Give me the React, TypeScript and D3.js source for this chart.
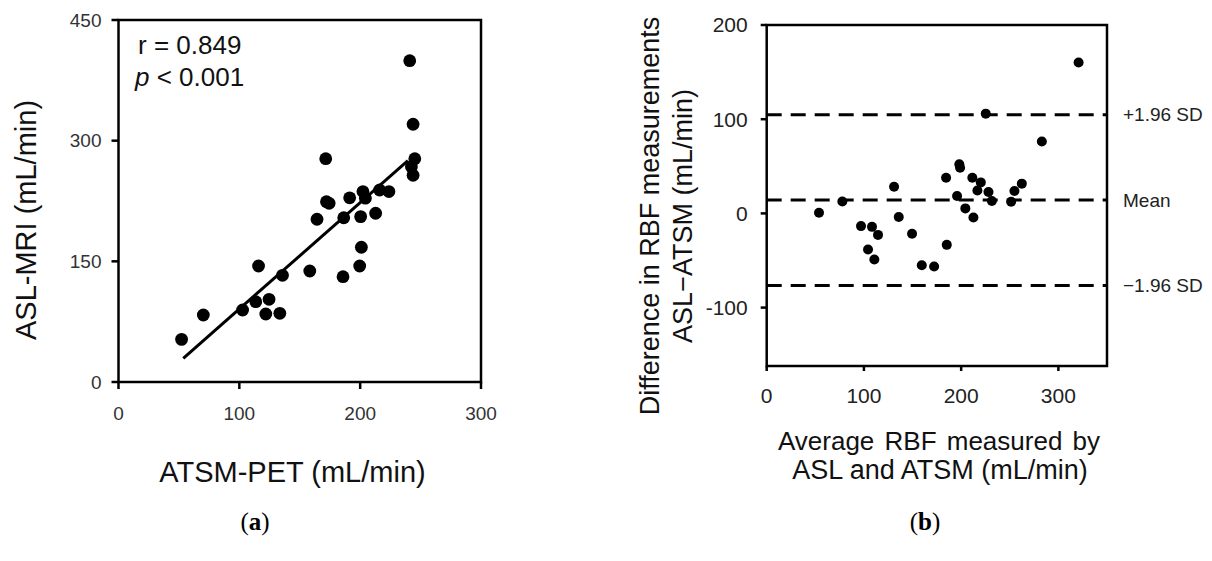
import React from "react";
import * as d3 from "d3";

// ---------- Panel (a) data ----------
const atsmPet = [52.2, 70.2, 102.7, 115.9, 113.6, 124.6, 121.9, 133.5, 135.7, 158.3, 164.3, 171.5, 172.1, 174.3, 185.8, 186.4, 191.3, 199.6, 201.0, 200.4, 202.3, 204.3, 212.8, 216.1, 223.8, 241.0, 243.8, 245.2, 242.4, 243.8];
const aslMri = [53, 83.3, 89.5, 144.2, 99.8, 102.8, 84.5, 85.4, 132.6, 138, 202.3, 277.6, 224.1, 222.1, 130.9, 204.2, 229, 144.2, 167.5, 205.6, 236.7, 228.5, 209.8, 238.7, 236.7, 399.4, 320.4, 277.6, 267.7, 257];
const fitSlope = 1.321;
const fitIntercept = -41.3;
const fitRange = [53.6, 239.5];
const aXTicks = [0, 100, 200, 300];
const aYTicks = [0, 150, 300, 450];

// ---------- Panel (b) data ----------
const avgRbf = [53.8, 77.8, 97.0, 104.2, 108.3, 110.7, 114.5, 131.0, 135.8, 149.5, 159.5, 172.2, 184.5, 185.2, 195.8, 198.1, 198.9, 204.3, 211.5, 212.6, 216.7, 220.2, 225.3, 228.1, 231.6, 251.4, 254.8, 262.4, 283.0, 320.8];
const diffRbf = [0.6, 12.6, -13.5, -38.3, -14.3, -49.0, -22.8, 28.2, -3.9, -21.6, -55.0, -56.4, 37.9, -33.4, 18.4, 52.1, 48.5, 5.3, 37.9, -4.3, 24.4, 32.9, 105.9, 22.7, 13.1, 12.4, 23.8, 31.6, 76.3, 160.1];
const meanDiff = 14.1;
const sdDiff = 46.2;
const limitLabels = ["+1.96 SD", "Mean", "\u22121.96 SD"];
const bXTicks = [0, 100, 200, 300];
const bYTicks = [-100, 0, 100, 200];

const SANS = "Arial, 'Liberation Sans', sans-serif";
const SERIF = "'Liberation Serif', 'DejaVu Serif', serif";

export default function App() {
  // Panel a scales
  const ax = d3.scaleLinear().domain([0, 300]).range([118.5, 481]);
  const ay = d3.scaleLinear().domain([0, 450]).range([382, 20]);
  // Panel b scales
  const bx = d3.scaleLinear().domain([0, 350]).range([766.7, 1107]);
  const by = d3.scaleLinear().domain([-162, 200]).range([366, 25]);

  const fitLine = d3.line<number>()
    .x((d) => ax(d))
    .y((d) => ay(fitSlope * d + fitIntercept));

  const limits = [meanDiff + 1.96 * sdDiff, meanDiff, meanDiff - 1.96 * sdDiff];

  const axisStroke = "#000";
  const sw = 2.5;

  return (
    <svg
      width={1212}
      height={561}
      style={{ position: "absolute", left: 0, top: 0, background: "#fff" }}
    >
      <rect x={0} y={0} width={1212} height={561} fill="#fff" />

      {/* ================= Panel (a) ================= */}
      <g>
        <rect
          x={ax(0)}
          y={ay(450)}
          width={ax(300) - ax(0)}
          height={ay(0) - ay(450)}
          fill="none"
          stroke={axisStroke}
          strokeWidth={sw}
        />
        {aYTicks.map((t) => (
          <g key={"ay" + t}>
            <line x1={ax(0) - 7} x2={ax(0)} y1={ay(t)} y2={ay(t)} stroke={axisStroke} strokeWidth={sw} />
            <text
              x={ax(0) - 17}
              y={ay(t)}
              dy="0.35em"
              textAnchor="end"
              fontFamily={SANS}
              fontSize={19}
              fill="#333"
            >
              {t}
            </text>
          </g>
        ))}
        {aXTicks.map((t) => (
          <g key={"ax" + t}>
            <line x1={ax(t)} x2={ax(t)} y1={ay(0)} y2={ay(0) + 7} stroke={axisStroke} strokeWidth={sw} />
            <text
              x={ax(t)}
              y={420}
              textAnchor="middle"
              fontFamily={SANS}
              fontSize={19}
              fill="#333"
            >
              {t}
            </text>
          </g>
        ))}
        <path d={fitLine(fitRange) || ""} fill="none" stroke="#000" strokeWidth={3} />
        {atsmPet.map((v, i) => (
          <circle key={"pa" + i} cx={ax(v)} cy={ay(aslMri[i])} r={6.4} fill="#000" />
        ))}
        <text x={138} y={54} fontFamily={SANS} fontSize={26} fill="#111">
          r = 0.849
        </text>
        <text x={135} y={86} fontFamily={SANS} fontSize={26} fill="#111">
          <tspan fontStyle="italic">p</tspan> &lt; 0.001
        </text>
        <text
          transform={`translate(36,220) rotate(-90)`}
          textAnchor="middle"
          fontFamily={SANS}
          fontSize={29}
          fill="#111"
        >
          ASL-MRI (mL/min)
        </text>
        <text x={292.5} y={482} textAnchor="middle" fontFamily={SANS} fontSize={29} fill="#111">
          ATSM-PET (mL/min)
        </text>
        <text x={255} y={530} textAnchor="middle" fontFamily={SERIF} fontSize={25} fill="#000">
          (<tspan fontWeight="bold">a</tspan>)
        </text>
      </g>

      {/* ================= Panel (b) ================= */}
      <g>
        <rect
          x={bx(0)}
          y={by(200)}
          width={bx(350) - bx(0)}
          height={by(-162) - by(200)}
          fill="none"
          stroke={axisStroke}
          strokeWidth={sw}
        />
        {bYTicks.map((t) => (
          <g key={"by" + t}>
            <line x1={bx(0) - 6} x2={bx(0)} y1={by(t)} y2={by(t)} stroke={axisStroke} strokeWidth={sw} />
            <text
              x={bx(0) - 19}
              y={by(t)}
              dy="0.35em"
              textAnchor="end"
              fontFamily={SANS}
              fontSize={21}
              fill="#222"
            >
              {t}
            </text>
          </g>
        ))}
        {bXTicks.map((t) => (
          <g key={"bx" + t}>
            <line x1={bx(t)} x2={bx(t)} y1={by(-162)} y2={by(-162) + 5} stroke={axisStroke} strokeWidth={sw} />
            <text
              x={bx(t)}
              y={403}
              textAnchor="middle"
              fontFamily={SANS}
              fontSize={21}
              fill="#222"
            >
              {t}
            </text>
          </g>
        ))}
        {limits.map((v, i) => (
          <g key={"lim" + i}>
            <line
              x1={bx(0)}
              x2={bx(350)}
              y1={by(v)}
              y2={by(v)}
              stroke="#000"
              strokeWidth={3}
              strokeDasharray="15 9"
            />
            <text
              x={1123}
              y={by(v)}
              dy="0.35em"
              fontFamily={SANS}
              fontSize={19}
              fill="#222"
            >
              {limitLabels[i]}
            </text>
          </g>
        ))}
        {avgRbf.map((v, i) => (
          <circle key={"pb" + i} cx={bx(v)} cy={by(diffRbf[i])} r={5} fill="#000" />
        ))}
        <text
          transform={`translate(659,216) rotate(-90)`}
          textAnchor="middle"
          fontFamily={SANS}
          fontSize={27}
          fill="#111"
        >
          Difference in RBF measurements
        </text>
        <text
          transform={`translate(692,216) rotate(-90)`}
          textAnchor="middle"
          fontFamily={SANS}
          fontSize={27}
          fill="#111"
        >
          ASL{"\u2212"}ATSM (mL/min)
        </text>
        <text x={939} y={450} textAnchor="middle" fontFamily={SANS} fontSize={26} fill="#111" wordSpacing={3}>
          Average RBF measured by
        </text>
        <text x={940} y={479} textAnchor="middle" fontFamily={SANS} fontSize={27} fill="#111">
          ASL and ATSM (mL/min)
        </text>
        <text x={925} y={530} textAnchor="middle" fontFamily={SERIF} fontSize={25} fill="#000">
          (<tspan fontWeight="bold">b</tspan>)
        </text>
      </g>
    </svg>
  );
}
